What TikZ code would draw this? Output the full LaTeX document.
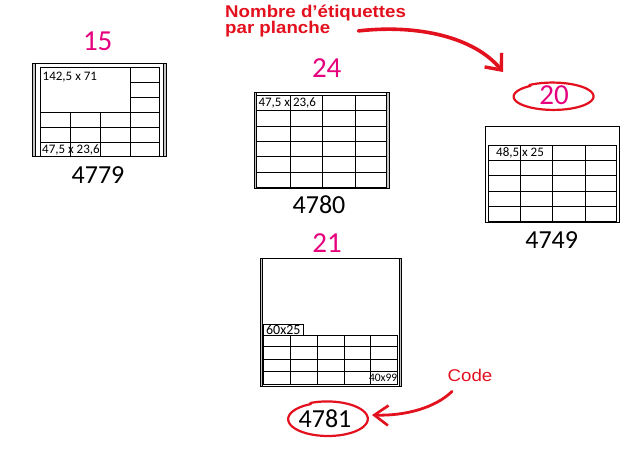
\documentclass[tikz,border=0pt]{standalone}
\usepackage{fontspec}
\setmainfont{Carlito}
\newfontfamily\redfont[FakeStretch=1.1]{Liberation Sans}
\usetikzlibrary{arrows.meta}
\definecolor{mag}{HTML}{E6007E}
\definecolor{redc}{HTML}{E3101E}
\begin{document}
\begin{tikzpicture}[x=1pt,y=-1pt,
  sheet/.style={draw=black, line width=0.9pt},
  gridl/.style={draw=black, line width=0.9pt},
  sidestrip/.style={draw=black, fill=gray!45, line width=0.6pt},
  count/.style={text=mag, font=\fontsize{29}{30}\selectfont, inner sep=0pt},
  codenum/.style={text=black, font=\fontsize{26}{27}\selectfont, inner sep=0pt},
  dim/.style={font=\fontsize{13}{14}\selectfont, inner sep=0pt},
  annot/.style={text=redc, inner sep=0pt},
  redarrow/.style={draw=redc, line cap=round},
  handcircle/.style={draw=redc, line width=2.2pt, line cap=round}
]
\useasboundingbox (0,0) rectangle (636,450);

% ---------- Sheet 4779 ----------
\draw[sheet] (32.7,63.3) rectangle (166,156.7);
\draw[sidestrip] (32.7,63.3) rectangle (35,156.7);
\draw[sidestrip] (163.3,63.3) rectangle (166,156.7);
\draw[gridl] (40,67.7) rectangle (159.3,156.7);
\draw[gridl] (130,67.7) -- (130,156.7);
\foreach \x in {70,100} \draw[gridl] (\x,112.3) -- (\x,156.7);
\foreach \y in {82.3,97.3} \draw[gridl] (130,\y) -- (159.3,\y);
\foreach \y in {112.3,127.3,142.3} \draw[gridl] (40,\y) -- (159.3,\y);
\node[dim, anchor=west] (d4779a) at (42.5,77) {142,5 x 71};
\node[dim, anchor=west] (d4779b) at (42,150) {47,5 x 23,6};
\node[count] (n15) at (97.7,41.7) {15};
\node[codenum] (c4779) at (98,175) {4779};

% ---------- Sheet 4780 ----------
\draw[sheet] (254,92.3) rectangle (389.3,188.3);
\draw[sidestrip] (254,92.3) rectangle (256.7,188.3);
\draw[sidestrip] (386.7,92.3) rectangle (389.3,188.3);
\draw[gridl] (256.7,95) rectangle (386.7,187.7);
\foreach \x in {290,322.3,355} \draw[gridl] (\x,95) -- (\x,187.7);
\foreach \y in {110.7,126,141,156.7,172.3} \draw[gridl] (256.7,\y) -- (386.7,\y);
\node[dim, anchor=west] (d4780) at (258.3,103.3) {47,5 x 23,6};
\node[count] (n24) at (326.7,68.3) {24};
\node[codenum] (c4780) at (319,205) {4780};

% ---------- Sheet 4749 ----------
\draw[sheet] (485.7,126.7) rectangle (619,222.3);
\draw[gridl] (488.3,145) rectangle (616.7,221.7);
\foreach \x in {520.7,552.3,585} \draw[gridl] (\x,145) -- (\x,221.7);
\foreach \y in {160,175.7,191,206.7} \draw[gridl] (488.3,\y) -- (616.7,\y);
\node[dim, anchor=west] (d4749) at (496,152.7) {48,5 x 25};
\node[count] (n20) at (554,95) {20};
\node[codenum] (c4749) at (551.7,240) {4749};

% ---------- Sheet 4781 ----------
\draw[sheet] (260,258.3) rectangle (401.7,386);
\draw[sidestrip] (260,258.3) rectangle (262.7,386);
\draw[sidestrip] (399,258.3) rectangle (401.7,386);
\draw[gridl] (263.3,335.7) rectangle (397.7,384);
\foreach \x in {290.7,317.3,344.3,370.7} \draw[gridl] (\x,335.7) -- (\x,384);
\foreach \y in {346.7,359.3,371.7} \draw[gridl] (263.3,\y) -- (397.7,\y);
\draw[gridl] (263.3,324.3) rectangle (303.3,335.7);
\node[dim, font=\fontsize{14}{15}\selectfont] (d4781a) at (283.3,330) {60x25};
\node[dim, anchor=east, font=\fontsize{11.5}{12}\selectfont] (d4781b) at (397.5,377.5) {40x99};
\node[count] (n21) at (327,243.3) {21};
\node[codenum] (c4781) at (325,419) {4781};

% ---------- Hand-drawn circles ----------
\draw[handcircle]
  plot[smooth, domain=125:485, samples=60]
  ({553 + 39*(1+0.06*(\x-125)/360)*cos(\x)}, {96.5 - 13*(1+0.08*(\x-125)/360)*sin(\x)});
\draw[handcircle]
  plot[smooth, domain=115:475, samples=60]
  ({327.5 + 39*(1+0.05*(\x-115)/360)*cos(\x)}, {419 - 16.5*(1+0.07*(\x-115)/360)*sin(\x)});

% ---------- Annotations ----------
\node[annot, anchor=base west, font=\redfont\bfseries\fontsize{17}{16}\selectfont] (nb1) at (225,17.3) {Nombre d’étiquettes};
\node[annot, anchor=base west, font=\redfont\bfseries\fontsize{17}{16}\selectfont] (nb2) at (225,33.3) {par planche};
\node[annot, font=\redfont\fontsize{17}{18}\selectfont] (code) at (470,375) {Code};
\coordinate (tip20) at (503,72);
\coordinate (tip4781) at (372,415);

\draw[redarrow, line width=3.6pt, -{Straight Barb[length=13pt,width=22pt,line width=3.4pt]}]
  ([xshift=28pt,yshift=-2pt]nb2.east) .. controls (420,24) and (475,38) .. (tip20);
\draw[redarrow, line width=2.8pt, -{Straight Barb[length=14pt,width=20pt,line width=2.6pt]}]
  ([xshift=-18pt,yshift=-10pt]code.south) .. controls (435,408) and (405,416) .. (tip4781);
\end{tikzpicture}
\end{document}
